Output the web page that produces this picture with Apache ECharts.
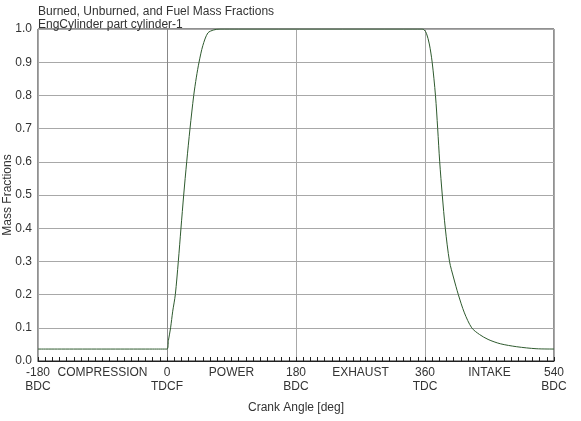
<!DOCTYPE html>
<html>
<head>
<meta charset="utf-8">
<script src="https://cdn.jsdelivr.net/npm/echarts@6/dist/echarts.min.js"></script>
<style>html,body{margin:0;padding:0;background:#fff;}#c{width:581px;height:421px;}</style>
</head>
<body>
<div id="c"></div>
<script>
var titleText = 'Burned, Unburned, and Fuel Mass Fractions';
var subText = 'EngCylinder part cylinder-1';
var xName = 'Crank Angle [deg]';
var yName = 'Mass Fractions';
var tickValues = [-180, -90, 0, 90, 180, 270, 360, 450, 540];
var tickLabels = ['-180\nBDC', 'COMPRESSION', '0\nTDCF', 'POWER', '180\nBDC', 'EXHAUST', '360\nTDC', 'INTAKE', '540\nBDC'];
var angles = [-180, -20, 0, 2, 5, 8, 11.6, 15.8, 19.5, 23.3, 27.5, 32.1, 37.3, 41, 44.7, 50, 57, 65, 74, 100,
  330, 356, 359, 362, 366, 370, 374.6, 377.7, 380.5, 384.1, 388.3, 394.2, 400, 406.5, 415, 425.2, 436, 448, 465, 488, 515, 540];
var fractions = [0.036, 0.036, 0.036, 0.062, 0.1, 0.15, 0.2, 0.3, 0.4, 0.5, 0.6, 0.7, 0.8, 0.855, 0.9, 0.95, 0.988, 0.997, 1.0, 1.0,
  1.0, 1.0, 0.997, 0.987, 0.955, 0.9, 0.8, 0.7, 0.6, 0.5, 0.4, 0.3, 0.25, 0.2, 0.145, 0.1, 0.08, 0.065, 0.052, 0.043, 0.037, 0.036];

var data = angles.map(function (a, i) { return [a, fractions[i]]; });
var font = 'Liberation Sans, Arial, sans-serif';
var chart = echarts.init(document.getElementById('c'));
chart.setOption({
  animation: false,
  backgroundColor: '#fff',
  title: {
    text: titleText, subtext: subText, left: 33, top: 0, itemGap: 0,
    textStyle: {fontSize: 12, fontWeight: 'normal', color: '#333', fontFamily: font, lineHeight: 13},
    subtextStyle: {fontSize: 12, color: '#333', fontFamily: font, lineHeight: 13}
  },
  grid: {left: 38, right: 27, top: 29, bottom: 60, show: true, borderColor: '#222', borderWidth: 1,
    containLabel: false, outerBoundsMode: 'none'},
  xAxis: [{
    type: 'value', min: -180, max: 540, interval: 90,
    name: xName, nameLocation: 'middle', nameGap: 41, nameMoveOverlap: false,
    nameTextStyle: {fontSize: 12, color: '#333', fontFamily: font},
    axisLine: {show: true, lineStyle: {color: '#222'}},
    axisTick: {show: true, inside: true, length: 4, lineStyle: {color: '#222'}},
    minorTick: {show: true, splitNumber: 9, length: 4, lineStyle: {color: '#222'}},
    splitLine: {show: false},
    axisLabel: {
      margin: 5, fontSize: 12, color: '#333', fontFamily: font, lineHeight: 14,
      formatter: function (v) { var i = tickValues.indexOf(v); return i >= 0 ? tickLabels[i] : ''; }
    }
  }, {
    type: 'value', min: -180, max: 540, interval: 180, position: 'bottom',
    axisLine: {show: false}, axisTick: {show: false}, axisLabel: {show: false},
    splitLine: {show: true, lineStyle: {color: '#a8a8a8', width: 1}}
  }],
  yAxis: {
    type: 'value', min: 0, max: 1, interval: 0.1,
    name: yName, nameLocation: 'middle', nameGap: 24, nameRotate: 90, nameMoveOverlap: false,
    nameTextStyle: {fontSize: 12, color: '#333', fontFamily: font},
    axisLine: {show: true, lineStyle: {color: '#888'}},
    axisTick: {show: false},
    splitLine: {show: true, lineStyle: {color: '#a8a8a8', width: 1}},
    axisLabel: {margin: 6, fontSize: 12, color: '#333', fontFamily: font,
      formatter: function (v) { return v.toFixed(1); }}
  },
  series: [{
    type: 'line', xAxisIndex: 0, data: data, showSymbol: false,
    smooth: 0.3,
    lineStyle: {color: '#2e5a2e', width: 1}
  }]
});
</script>
</body>
</html>
